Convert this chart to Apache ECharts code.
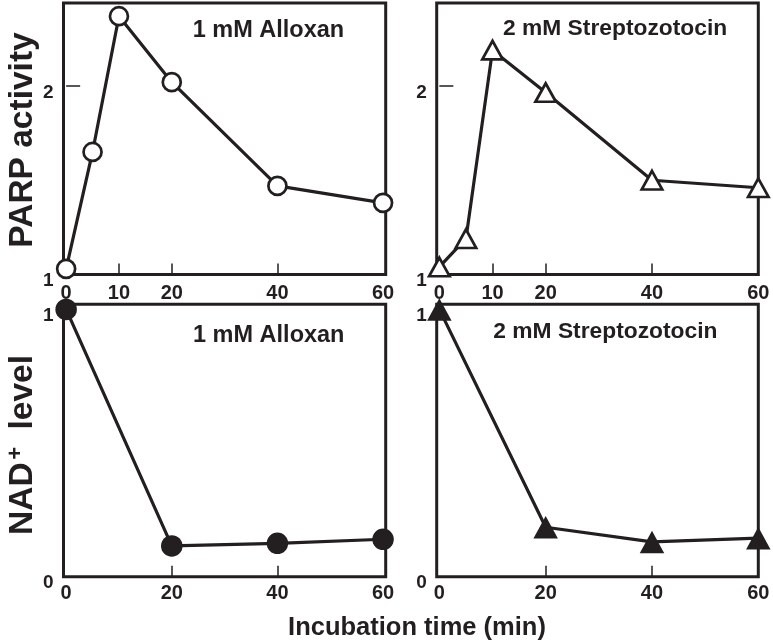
<!DOCTYPE html>
<html>
<head>
<meta charset="utf-8">
<script src="https://cdn.jsdelivr.net/npm/echarts@6/dist/echarts.min.js"></script>
<style>
html,body{margin:0;padding:0;background:#fff;}
#chart{width:773px;height:644px;}
</style>
</head>
<body>
<div id="chart"></div>
<script>
// ---- data ----
const timesParp = [0, 5, 10, 20, 40, 60];
const parpAlloxan = [1.03, 1.65, 2.37, 2.02, 1.47, 1.38];
const parpStz = [1.04, 1.19, 2.19, 1.965, 1.50, 1.46];
const timesNad = [0, 20, 40, 60];
const nadAlloxan = [1.0, 0.115, 0.125, 0.14];
const nadStz = [1.0, 0.185, 0.13, 0.144];
const xLabelsTop = [0, 10, 20, 40, 60];
const xTicksTop = [10, 20, 40];
const xLabelsBottom = [0, 20, 40, 60];
const xTicksBottom = [20, 40];
const yLabelsTop = [1, 2];
const yTicksTop = [2];
const yLabelsBottom = [0, 1];
const yTicksBottom = [];
const titleAlloxan = '1 mM Alloxan';
const titleStz = '2 mM Streptozotocin';
const yNameTop = 'PARP activity';
const xName = 'Incubation time (min)';

const C = '#231f20';
const F = '"Liberation Sans", Arial, sans-serif';

function pairs(xs, ys) { return xs.map((x, i) => [x, ys[i]]); }

function xAx(gi, max, labels, ticks, margin) {
  return {
    type: 'value', gridIndex: gi, min: -0.5, max: max,
    axisLine: { show: false }, splitLine: { show: false },
    axisTick: { show: true, inside: true, length: 11, customValues: ticks, lineStyle: { color: C, width: 1.5 } },
    axisLabel: { customValues: labels, margin: margin, color: C, fontSize: 20, fontWeight: 'bold', fontFamily: F }
  };
}
function yAx(gi, min, max, labels, ticks) {
  return {
    type: 'value', gridIndex: gi, min: min, max: max,
    axisLine: { show: false }, splitLine: { show: false },
    axisTick: { show: ticks.length > 0, inside: true, length: 14, customValues: ticks, lineStyle: { color: C, width: 1.5 } },
    axisLabel: { customValues: labels, margin: 10, color: C, fontSize: 19, fontWeight: 'bold', fontFamily: F, verticalAlign: 'top', lineHeight: 13 }
  };
}
function ser(gi, data, symbol, size, filled) {
  return {
    type: 'line', xAxisIndex: gi, yAxisIndex: gi, data: data,
    symbol: symbol, symbolSize: size, showSymbol: true, animation: false,
    lineStyle: { color: C, width: 3.2 },
    itemStyle: filled ? { color: C, borderColor: C, borderWidth: 0 } : { color: '#fff', borderColor: C, borderWidth: 2.7 },
    emphasis: { disabled: true }, z: 3
  };
}
const gridStyle = { show: true, borderWidth: 3, borderColor: C, backgroundColor: 'transparent' };

const option = {
  backgroundColor: '#fff',
  animation: false,
  grid: [
    Object.assign({ left: 63.5, top: 3, width: 322.2, height: 271.5 }, gridStyle),
    Object.assign({ left: 436.7, top: 3, width: 321.6, height: 271.5 }, gridStyle),
    Object.assign({ left: 63.5, top: 304.3, width: 322.2, height: 272.4 }, gridStyle),
    Object.assign({ left: 436.7, top: 304.3, width: 321.6, height: 272.4 }, gridStyle)
  ],
  xAxis: [
    xAx(0, 60.5, xLabelsTop, xTicksTop, 9),
    xAx(1, 60, xLabelsTop, xTicksTop, 9),
    xAx(2, 60.5, xLabelsBottom, xTicksBottom, 7),
    xAx(3, 60, xLabelsBottom, xTicksBottom, 7)
  ],
  yAxis: [
    yAx(0, 1, 2.44, yLabelsTop, yTicksTop),
    yAx(1, 1, 2.44, yLabelsTop, yTicksTop),
    yAx(2, 0, 1.019, yLabelsBottom, yTicksBottom),
    yAx(3, 0, 1.019, yLabelsBottom, yTicksBottom)
  ],
  series: [
    ser(0, pairs(timesParp, parpAlloxan), 'circle', 18, false),
    ser(1, pairs(timesParp, parpStz), 'triangle', [20.5, 18.5], false),
    ser(2, pairs(timesNad, nadAlloxan), 'circle', 21.5, true),
    ser(3, pairs(timesNad, nadStz), 'triangle', [24.5, 22.5], true)
  ],
  graphic: [
    { type: 'text', x: 192.7, y: 31, style: { text: titleAlloxan, fill: C, fontSize: 23.5, fontWeight: 'bold', fontFamily: F, align: 'left', verticalAlign: 'middle' } },
    { type: 'text', x: 503, y: 29, style: { text: titleStz, fill: C, fontSize: 22.8, fontWeight: 'bold', fontFamily: F, align: 'left', verticalAlign: 'middle' } },
    { type: 'text', x: 193, y: 336, style: { text: titleAlloxan, fill: C, fontSize: 23.5, fontWeight: 'bold', fontFamily: F, align: 'left', verticalAlign: 'middle' } },
    { type: 'text', x: 493.3, y: 332, style: { text: titleStz, fill: C, fontSize: 22.8, fontWeight: 'bold', fontFamily: F, align: 'left', verticalAlign: 'middle' } },
    { type: 'text', x: 417, y: 627.5, style: { text: xName, fill: C, fontSize: 25.5, fontWeight: 'bold', fontFamily: F, align: 'center', verticalAlign: 'middle' } },
    { type: 'text', x: 23, y: 140, rotation: Math.PI / 2, style: { text: yNameTop, fill: C, fontSize: 33.5, fontWeight: 'bold', fontFamily: F, align: 'center', verticalAlign: 'middle' } },
    { type: 'text', x: 23, y: 498.7, rotation: Math.PI / 2, style: { text: 'NAD', fill: C, fontSize: 33.5, fontWeight: 'bold', fontFamily: F, align: 'center', verticalAlign: 'middle' } },
    { type: 'text', x: 16, y: 453.3, rotation: Math.PI / 2, style: { text: '+', fill: C, fontSize: 22, fontWeight: 'bold', fontFamily: F, align: 'center', verticalAlign: 'middle' } },
    { type: 'text', x: 23, y: 392.3, rotation: Math.PI / 2, style: { text: 'level', fill: C, fontSize: 33.5, fontWeight: 'bold', fontFamily: F, align: 'center', verticalAlign: 'middle' } }
  ]
};

const chart = echarts.init(document.getElementById('chart'), null, { renderer: 'canvas' });
chart.setOption(option);
</script>
</body>
</html>
